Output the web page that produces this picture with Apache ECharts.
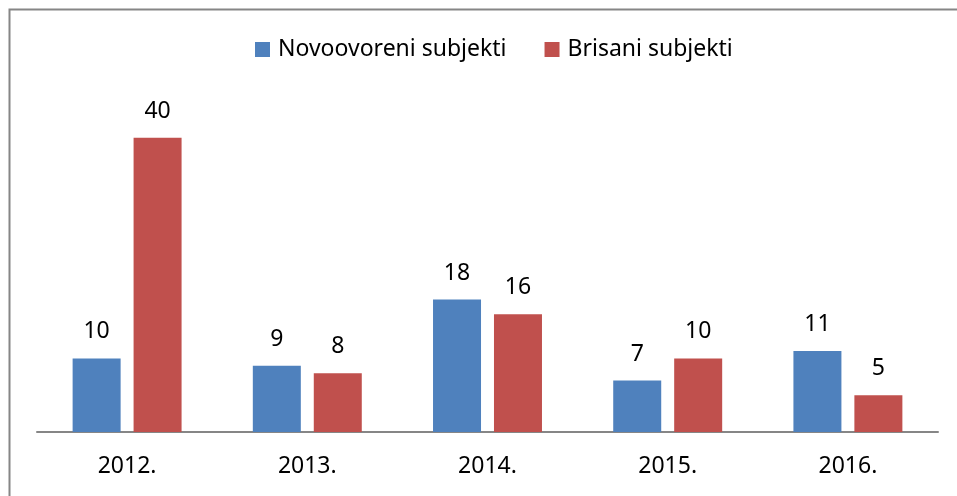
<!doctype html>
<html><head><meta charset="utf-8"></head>
<body style="margin:0;background:#fff">
<div id="container" style="width:957px;height:496px"></div>
<script src="https://cdn.jsdelivr.net/npm/echarts@6/dist/echarts.min.js"></script>
<script>
var years = ['2012.', '2013.', '2014.', '2015.', '2016.'];
var novoovoreni = [10, 9, 18, 7, 11];
var brisani = [40, 8, 16, 10, 5];

var chart = echarts.init(document.getElementById('container'));
var font = 'Noto Sans';
var labelStyle = {show: true, position: 'top', distance: 15, color: '#000', fontSize: 23, fontFamily: font};

chart.setOption({
    animation: false,
    graphic: [{
        type: 'rect', left: 7, top: 7,
        shape: {width: 1000, height: 600},
        style: {fill: 'none', stroke: '#868686', lineWidth: 2},
        silent: true
    }],
    legend: {
        top: 33, left: 250,
        itemWidth: 15, itemHeight: 15, itemGap: 38,
        icon: 'rect',
        textStyle: {fontSize: 23, fontFamily: font, color: '#000', padding: [0, 0, 0, 3]},
        data: ['Novoovoreni subjekti', 'Brisani subjekti']
    },
    grid: {left: 37, right: 19, top: 101, bottom: 64},
    xAxis: {
        type: 'category',
        data: years,
        axisLine: {lineStyle: {color: '#868686', width: 2}},
        axisTick: {show: false},
        axisLabel: {color: '#000', fontSize: 23, fontFamily: font, margin: 23}
    },
    yAxis: {
        type: 'value', min: 0, max: 45,
        axisLine: {show: false}, axisTick: {show: false},
        axisLabel: {show: false}, splitLine: {show: false}
    },
    series: [
        {name: 'Novoovoreni subjekti', type: 'bar', data: novoovoreni, barWidth: 48, barGap: '27%',
         itemStyle: {color: '#4F81BD'}, label: labelStyle},
        {name: 'Brisani subjekti', type: 'bar', data: brisani, barWidth: 48,
         itemStyle: {color: '#C0504D'}, label: labelStyle}
    ]
});
</script>
</body></html>
